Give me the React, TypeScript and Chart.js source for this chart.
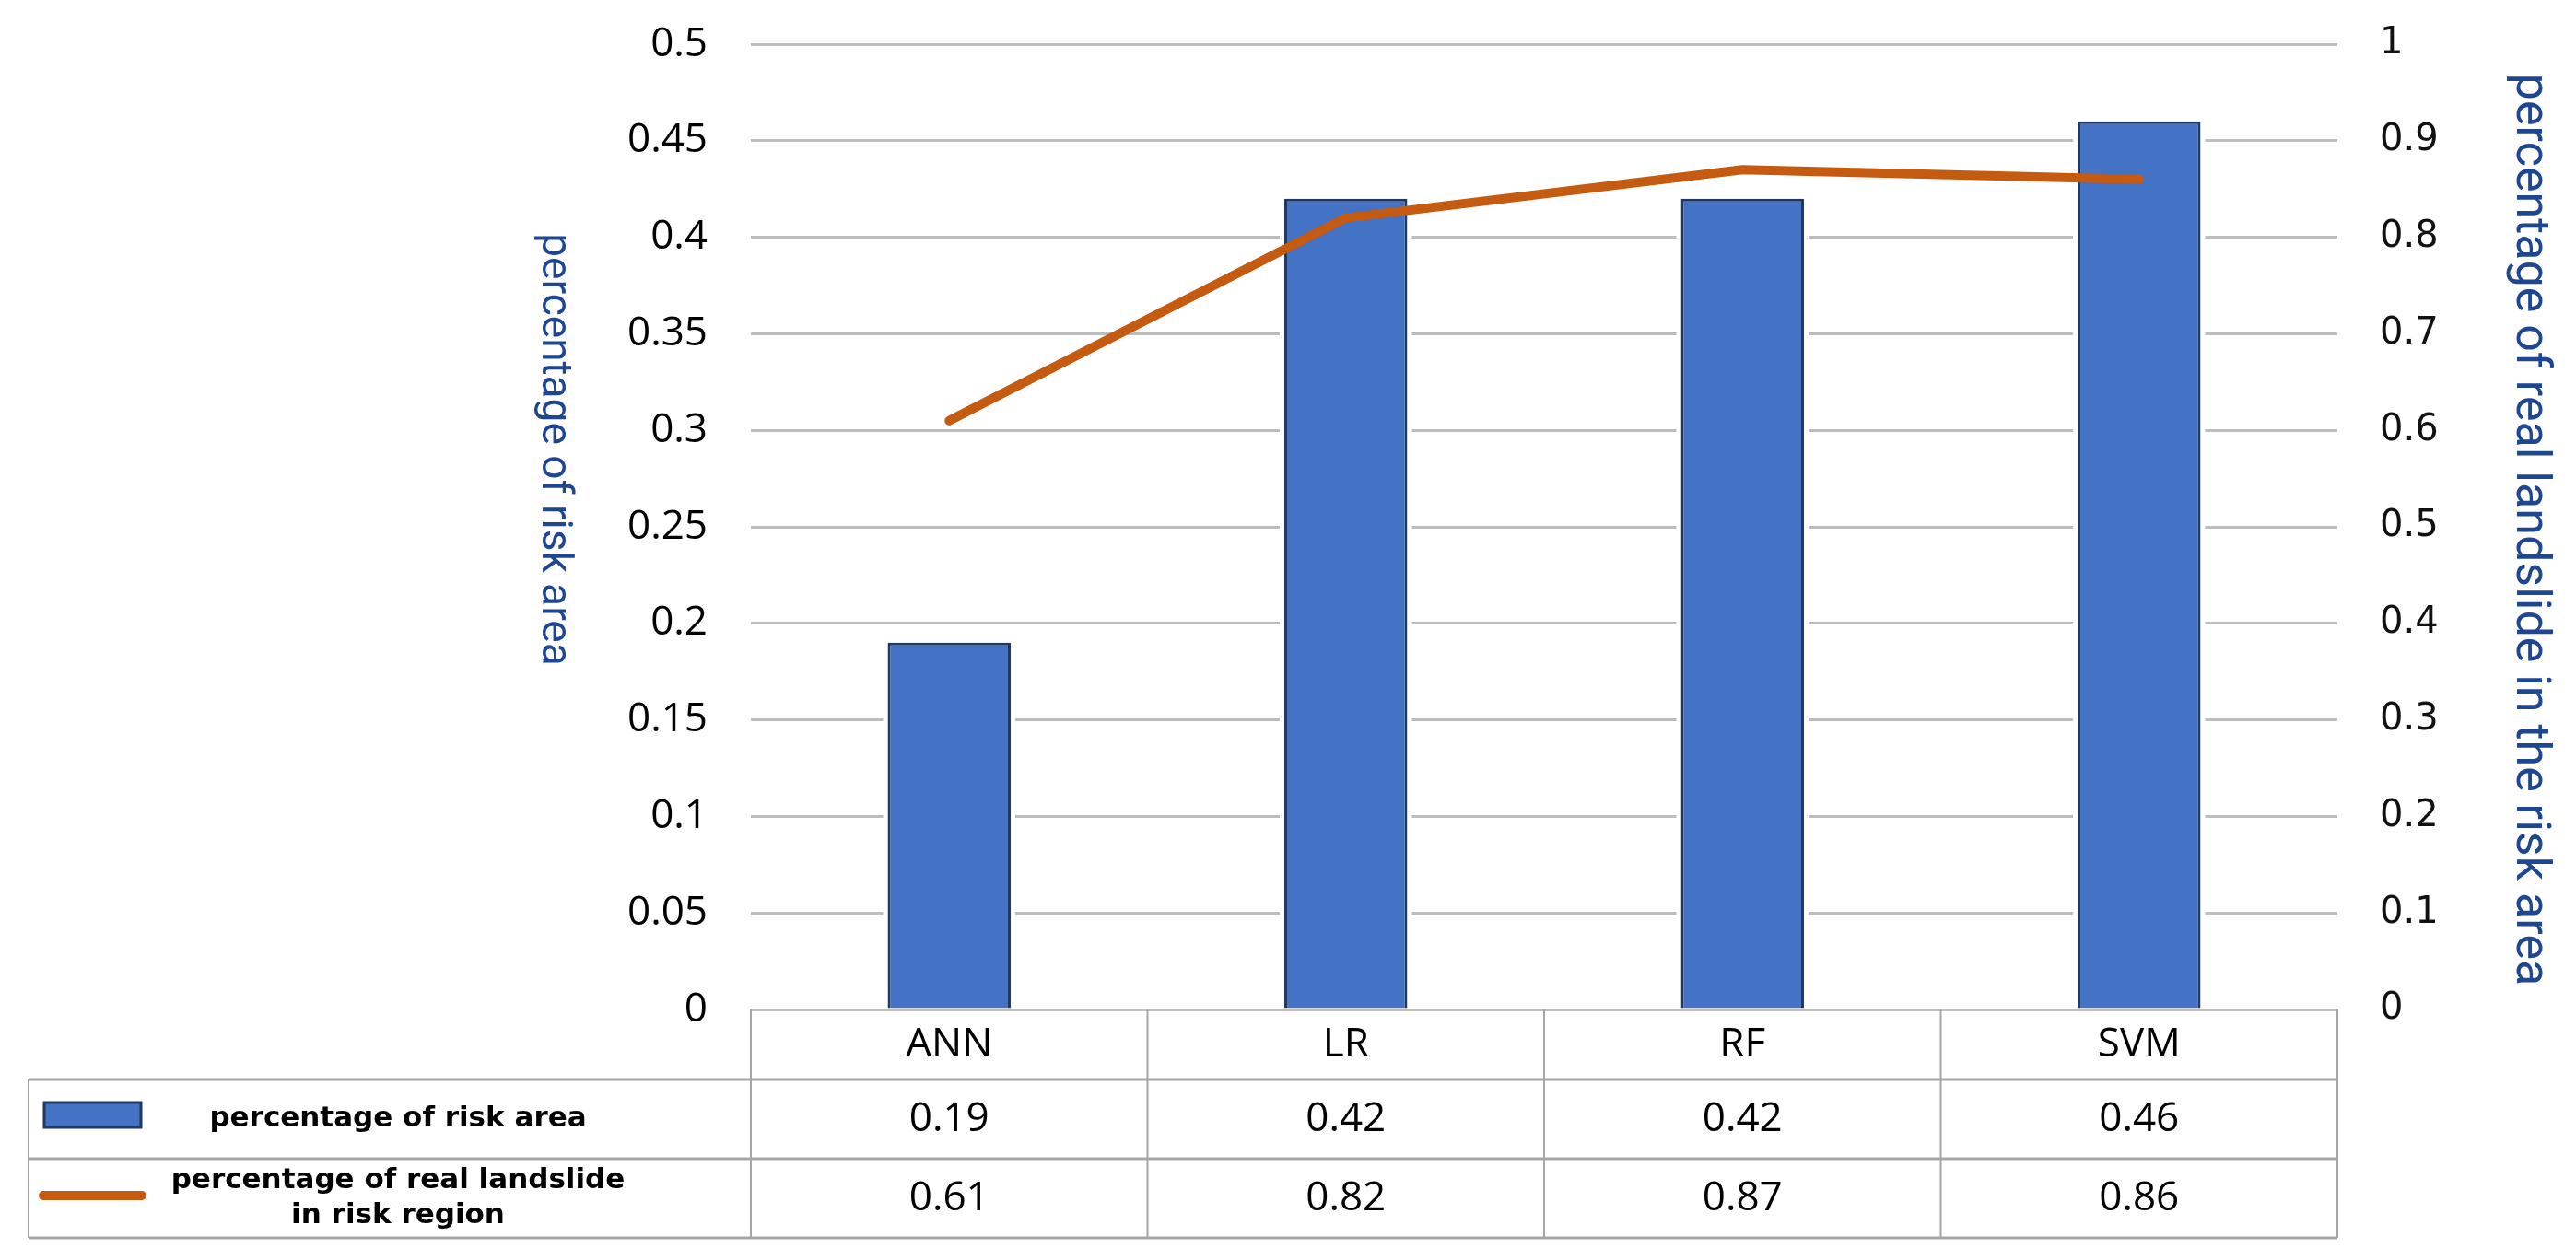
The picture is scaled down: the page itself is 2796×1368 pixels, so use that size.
import React, { useEffect, useRef } from "react";
import { Chart, registerables } from "chart.js";

Chart.register(...registerables);

// ---------------- data ----------------
const categories = ["ANN", "LR", "RF", "SVM"];
const riskArea = [0.19, 0.42, 0.42, 0.46];
const realLandslide = [0.61, 0.82, 0.87, 0.86];
const riskAreaLabels = ["0.19", "0.42", "0.42", "0.46"];
const realLandslideLabels = ["0.61", "0.82", "0.87", "0.86"];
const legendRiskArea = ["percentage of risk area"];
const legendRealLandslide = ["percentage of real landslide", "in risk region"];
const leftAxisTitle = "percentage of risk area";
const rightAxisTitle = "percentage of real landslide in the risk area";

// ---------------- styles ----------------
const W = 2796;
const H = 1368;
const BAR_FILL = "#4472C4";
const BAR_EDGE = "#1F3864";
const LINE_COLOR = "#C55A11";
const GRID = "#BDBDBD";
const TABLE_LINE = "#A6A6A6";
const TITLE_COLOR = "#1F4690";
const PLOT_LEFT = 815;
const PLOT_RIGHT = 2537;
const PLOT_TOP = 48;
const PLOT_BOTTOM = 1096;
const ROW_HEIGHTS = [76, 86, 86];
const TABLE_LEFT = 31;
const LEGEND_CENTER = 432;

const fmt = (v: number | string) => String(parseFloat(Number(v).toFixed(2)));

// white halo around the bars (gridlines stop short of the bars)
const haloPlugin = {
  id: "barHalo",
  beforeDatasetsDraw(chart: any) {
    const ctx: CanvasRenderingContext2D = chart.ctx;
    const meta = chart.getDatasetMeta(1);
    ctx.save();
    ctx.fillStyle = "#fff";
    meta.data.forEach((bar: any) => {
      const left = bar.x - bar.width / 2 - 5;
      const top = Math.min(bar.y, bar.base) - 5;
      const h = Math.abs(bar.base - bar.y) + 3;
      ctx.fillRect(left, top, bar.width + 10, h);
    });
    ctx.restore();
  },
};

const tablePlugin = {
  id: "dataTable",
  afterDraw(chart: any) {
    const ctx: CanvasRenderingContext2D = chart.ctx;
    const xs = chart.scales.x;
    const area = chart.chartArea;
    const n = categories.length;
    const centers = categories.map((_, i) => xs.getPixelForValue(i));
    const bounds: number[] = [area.left];
    for (let i = 0; i < n - 1; i++) bounds.push((centers[i] + centers[i + 1]) / 2);
    bounds.push(area.right);

    const y0 = area.bottom;
    const y1 = y0 + ROW_HEIGHTS[0];
    const y2 = y1 + ROW_HEIGHTS[1];
    const y3 = y2 + ROW_HEIGHTS[2];

    ctx.save();
    ctx.strokeStyle = TABLE_LINE;
    ctx.lineWidth = 3;
    [y1, y2, y3].forEach((y) => {
      ctx.beginPath();
      ctx.moveTo(TABLE_LEFT, y);
      ctx.lineTo(area.right, y);
      ctx.stroke();
    });
    ctx.lineWidth = 2;
    bounds.forEach((x) => {
      ctx.beginPath();
      ctx.moveTo(x, y0);
      ctx.lineTo(x, y3);
      ctx.stroke();
    });
    ctx.beginPath();
    ctx.moveTo(TABLE_LEFT, y1);
    ctx.lineTo(TABLE_LEFT, y3);
    ctx.stroke();

    ctx.fillStyle = "#000";
    ctx.textAlign = "center";
    ctx.textBaseline = "middle";
    ctx.font = "44px 'Open Sans'";
    categories.forEach((c, i) => {
      ctx.fillText(c, centers[i], (y0 + y1) / 2);
      ctx.fillText(riskAreaLabels[i], centers[i], (y1 + y2) / 2);
      ctx.fillText(realLandslideLabels[i], centers[i], (y2 + y3) / 2);
    });

    ctx.fillStyle = BAR_FILL;
    ctx.fillRect(48, 1197, 105, 27);
    ctx.strokeStyle = BAR_EDGE;
    ctx.lineWidth = 3;
    ctx.strokeRect(48, 1197, 105, 27);

    ctx.strokeStyle = LINE_COLOR;
    ctx.lineWidth = 10;
    ctx.lineCap = "round";
    ctx.beginPath();
    ctx.moveTo(47, 1298);
    ctx.lineTo(154, 1298);
    ctx.stroke();

    ctx.fillStyle = "#000";
    ctx.font = "bold 31px 'DejaVu Sans'";
    ctx.fillText(legendRiskArea[0], LEGEND_CENTER, (y1 + y2) / 2);
    ctx.fillText(legendRealLandslide[0], LEGEND_CENTER, 1282);
    ctx.fillText(legendRealLandslide[1], LEGEND_CENTER, 1320);

    ctx.fillStyle = TITLE_COLOR;
    ctx.save();
    ctx.font = "46px Roboto";
    ctx.translate(600, 488);
    ctx.rotate(Math.PI / 2);
    ctx.fillText(leftAxisTitle, 0, 0);
    ctx.restore();

    ctx.save();
    ctx.font = "52px Roboto";
    ctx.translate(2745, 575);
    ctx.rotate(Math.PI / 2);
    ctx.fillText(rightAxisTitle, 0, 0);
    ctx.restore();

    ctx.restore();
  },
};

export default function App() {
  const ref = useRef<HTMLCanvasElement | null>(null);

  useEffect(() => {
    if (!ref.current) return;
    const chart = new Chart(ref.current, {
      type: "bar",
      data: {
        labels: categories,
        datasets: [
          {
            type: "line",
            label: legendRealLandslide.join(" "),
            data: realLandslide,
            yAxisID: "y1",
            borderColor: LINE_COLOR,
            backgroundColor: LINE_COLOR,
            borderWidth: 10,
            pointRadius: 0,
            borderCapStyle: "round",
            borderJoinStyle: "round",
            tension: 0,
            order: 0,
          } as any,
          {
            type: "bar",
            label: legendRiskArea[0],
            data: riskArea,
            yAxisID: "y",
            backgroundColor: BAR_FILL,
            borderColor: BAR_EDGE,
            borderWidth: 3,
            barPercentage: 0.31,
            categoryPercentage: 1,
            order: 1,
          } as any,
        ],
      },
      options: {
        animation: false,
        responsive: false,
        devicePixelRatio: 1,
        layout: { padding: { top: PLOT_TOP, left: 0, right: 0, bottom: 0 } },
        plugins: {
          legend: { display: false },
          tooltip: { enabled: false },
          title: { display: false },
        },
        scales: {
          x: {
            position: "bottom",
            grid: { display: false },
            border: { display: false },
            ticks: { display: false },
            afterFit: (s: any) => {
              s.height = H - PLOT_BOTTOM;
            },
          },
          y: {
            position: "left",
            min: 0,
            max: 0.5,
            ticks: {
              stepSize: 0.05,
              callback: (v: any) => fmt(v),
              font: { family: "'Open Sans'", size: 44 },
              color: "#000",
              padding: 0,
            },
            grid: {
              color: GRID,
              lineWidth: 3,
              drawTicks: true,
              tickLength: 47,
              tickColor: "rgba(0,0,0,0)",
            },
            border: { display: false },
            afterFit: (s: any) => {
              s.width = PLOT_LEFT;
              s.paddingTop = 0;
              s.paddingBottom = 0;
            },
          },
          y1: {
            position: "right",
            min: 0,
            max: 1,
            ticks: {
              stepSize: 0.1,
              callback: (v: any) => fmt(v),
              font: { family: "'DejaVu Sans'", size: 40 },
              color: "#111",
              padding: 0,
            },
            grid: {
              drawOnChartArea: false,
              drawTicks: true,
              tickLength: 46,
              tickColor: "rgba(0,0,0,0)",
            },
            border: { display: false },
            afterFit: (s: any) => {
              s.width = W - PLOT_RIGHT;
              s.paddingTop = 0;
              s.paddingBottom = 0;
            },
          },
        },
      } as any,
      plugins: [haloPlugin, tablePlugin],
    });
    // nudge the top padding so the plot area starts where the reference's does
    for (let k = 0; k < 4; k++) {
      const diff = chart.chartArea.top - PLOT_TOP;
      if (Math.abs(diff) < 0.5) break;
      const pad = (chart.options as any).layout.padding;
      pad.top = Math.max(0, pad.top - diff);
      chart.update();
    }
    return () => chart.destroy();
  }, []);

  return (
    <div
      style={{
        position: "absolute",
        left: 0,
        top: 0,
        width: W,
        height: H,
        background: "#fff",
      }}
    >
      <canvas ref={ref} width={W} height={H} style={{ display: "block" }} />
    </div>
  );
}
